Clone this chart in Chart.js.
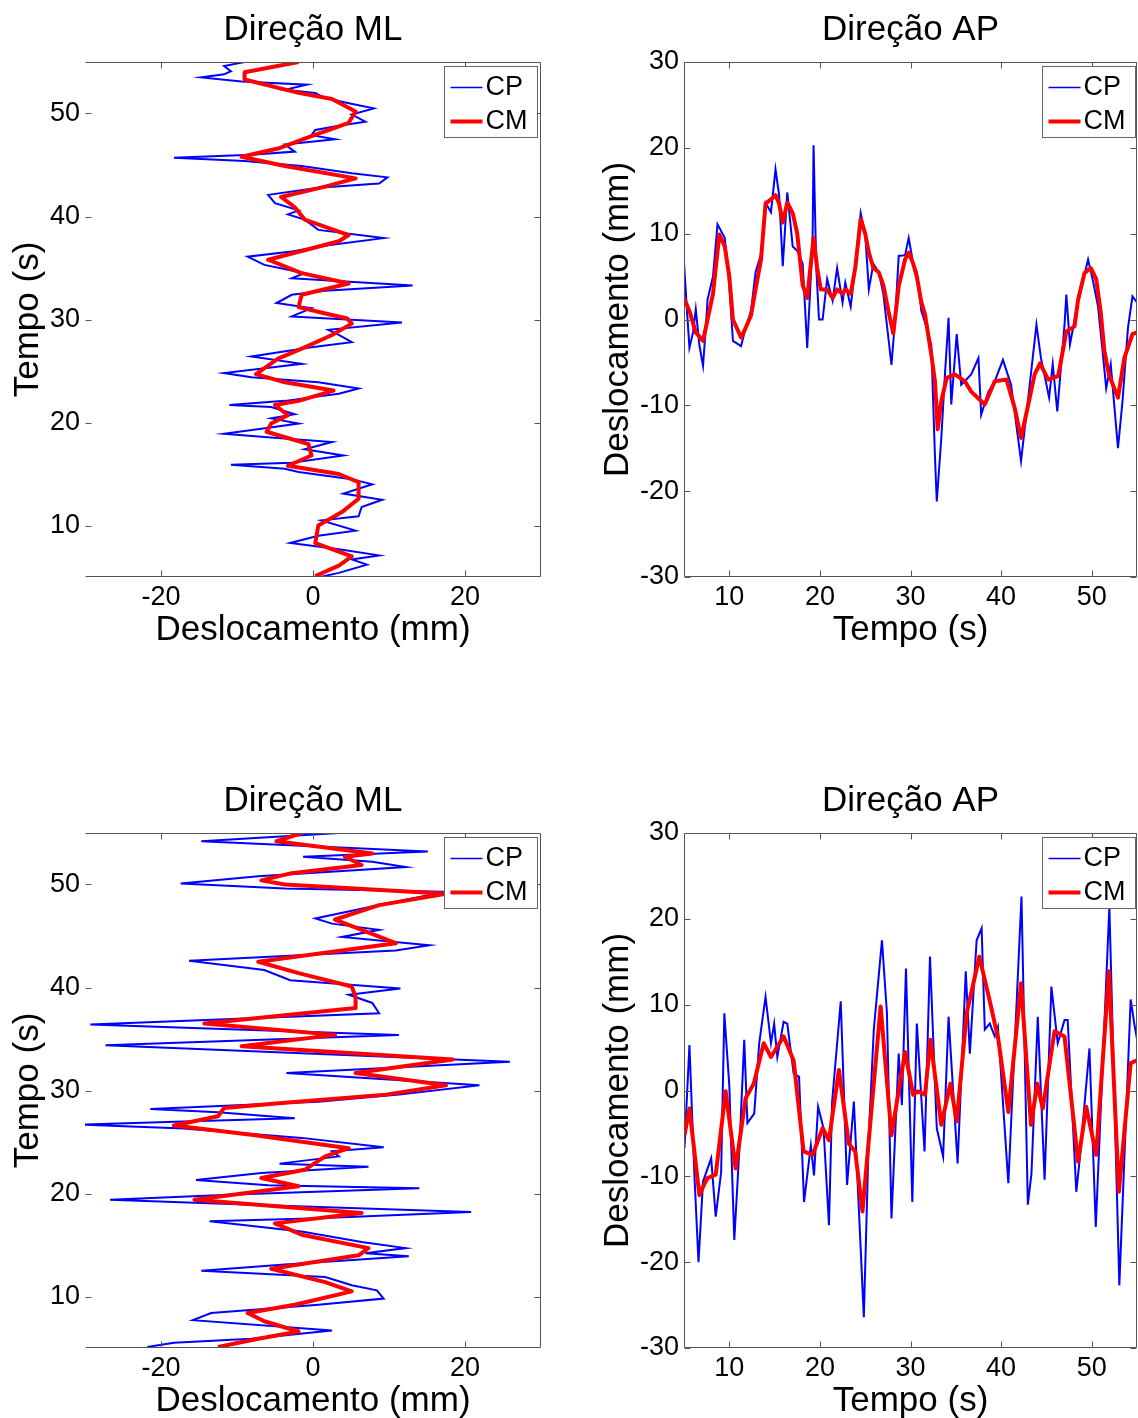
<!DOCTYPE html>
<html>
<head>
<meta charset="utf-8">
<title>Direção ML / AP</title>
<script src="https://cdn.jsdelivr.net/npm/chart.js@4.4.1/dist/chart.umd.min.js"></script>
<style>
  html, body { margin: 0; padding: 0; background: #fff; }
  body { position: relative; width: 1138px; height: 1418px; overflow: hidden; }
  canvas { position: absolute; }
</style>
</head>
<body>
<canvas id="mlTop" width="569" height="660" style="left:0;top:0"></canvas>
<canvas id="apTop" width="548" height="660" style="left:590px;top:0"></canvas>
<canvas id="mlBottom" width="569" height="660" style="left:0;top:771px"></canvas>
<canvas id="apBottom" width="548" height="660" style="left:590px;top:771px"></canvas>
<script>
// tick labels
const timeTicks = [10, 20, 30, 40, 50]
const mlTicks = [-20, 0, 20]
const apTicks = [-30, -20, -10, 0, 10, 20, 30]

// --- top row, ML (time in s, displacement in mm)
const ml1CpT = [4.9, 5.4, 6.2, 6.7, 7.1, 7.7, 8.3, 9.0, 9.5, 10.5,
  10.9, 11.8, 12.5, 13.1, 14.0, 14.5, 15.2, 15.5, 15.9, 16.1,
  16.8, 17.4, 18.1, 18.6, 18.9, 19.4, 19.9, 20.4, 20.8, 21.5,
  21.7, 22.1, 22.8, 23.3, 23.9, 24.4, 24.8, 25.2, 25.7, 26.4,
  27.3, 27.8, 28.5, 29.0, 29.7, 30.3, 31.1, 31.6, 32.4, 32.8,
  33.3, 34.0, 34.5, 35.3, 36.1, 36.6, 37.2, 37.9, 38.7, 39.7,
  40.2, 40.6, 41.3, 42.1, 42.8, 43.2, 43.8, 44.2, 44.9, 45.4,
  45.7, 46.0, 46.3, 47.0, 47.5, 47.9, 48.4, 48.8, 49.2, 49.9,
  50.5, 51.0, 51.5, 52.0, 52.3, 52.8, 53.1, 53.5, 53.8, 54.1,
  54.6, 55.0]
const ml1Cp = [0.3, 3.4, 7.1, 5.1, 8.7, 3.4, -3.0, 0.7, 5.6, 1.1,
  6.0, 6.4, 9.1, 4.0, 7.8, 5.1, -1.9, -3.7, -10.8, -2.8,
  4.0, -1.1, 2.5, -6.4, -11.7, -6.8, -1.9, -5.5, -2.4, -5.5,
  -11.0, -3.7, 3.4, 6.0, 0.7, -8.1, -11.7, -7.2, -1.5, -8.1,
  -0.2, 5.1, 3.4, 2.0, 11.7, -2.8, -0.2, -4.8, -2.8, 1.6,
  13.1, -2.8, -1.1, -6.4, -8.6, -2.8, 2.0, 9.3, 0.7, -1.1,
  -3.3, -1.9, -5.0, -5.9, 0.7, 8.7, 9.8, 5.1, -1.5, -9.0,
  -18.3, -8.1, -2.4, -3.7, 2.9, -0.2, 0.3, 3.4, 6.9, 5.1,
  8.0, 4.7, 1.6, 0.3, -3.7, -0.8, -9.4, -14.7, -11.7, -10.8,
  -11.7, -9.0]
const ml1CmT = [5.1, 6.1, 7.0, 8.3, 10.0, 11.3, 12.6, 14.2, 15.0, 15.8,
  16.8, 17.9, 19.1, 19.9, 20.7, 21.7, 22.1, 23.1, 23.9, 24.7,
  26.2, 27.3, 28.5, 29.6, 30.1, 30.6, 31.2, 32.4, 33.5, 34.5,
  35.8, 37.6, 38.2, 39.7, 40.9, 41.9, 42.9, 43.7, 44.9, 45.8,
  46.6, 47.8, 49.1, 50.2, 51.4, 52.0, 53.3, 54.0, 55.0]
const ml1Cm = [0.3, 3.4, 5.1, 0.3, 0.7, 3.8, 6.0, 6.0, 3.4, -3.3,
  -0.2, -0.6, -6.1, -5.5, -3.3, -5.0, -1.9, 2.7, -3.7, -7.5,
  -4.6, -1.1, 2.5, 5.1, 4.5, 1.5, -1.9, -1.5, 4.7, -1.5,
  -5.9, 3.4, 4.7, -1.1, -2.4, -4.2, 1.6, 5.6, -3.7, -9.4,
  -4.6, -0.2, 4.7, 5.6, 2.5, -1.9, -9.0, -9.0, -1.9]

// --- top row, AP
const ap1CpT = [5.0, 5.3, 5.6, 6.0, 6.3, 6.7, 7.1, 7.4, 7.6, 8.2,
  8.7, 9.0, 9.5, 10.0, 10.4, 11.3, 11.8, 12.4, 12.9, 13.5,
  14.0, 14.6, 15.1, 15.5, 15.9, 16.4, 17.0, 17.5, 18.1, 18.6,
  19.0, 19.2, 19.3, 19.6, 19.9, 20.3, 20.8, 21.4, 21.9, 22.5,
  22.8, 23.4, 23.9, 24.5, 25.0, 25.4, 25.9, 26.5, 27.0, 27.9,
  28.3, 28.7, 29.4, 29.8, 30.3, 30.7, 31.2, 31.8, 32.3, 32.7,
  32.9, 33.4, 33.8, 34.2, 34.5, 35.1, 35.6, 36.7, 37.5, 37.8,
  38.6, 39.3, 40.2, 41.1, 42.2, 43.0, 43.9, 44.4, 45.3, 45.7,
  46.2, 47.0, 47.2, 47.6, 48.4, 49.6, 50.1, 50.7, 51.2, 51.6,
  52.1, 52.9, 53.4, 54.0, 54.5, 55.0]
const ap1Cp = [6.6, 1.5, -3.3, -1.5, 1.2, -3.0, -5.4, -1.0, 2.3, 5.0,
  11.1, 10.5, 9.5, 4.0, -2.5, -3.1, -1.0, 1.0, 5.5, 7.6,
  13.6, 12.5, 17.5, 14.5, 6.2, 14.8, 8.5, 8.0, 6.5, -3.3,
  5.0, 10.0, 20.3, 6.0, 0.0, 0.0, 4.7, 2.2, 6.0, 2.0,
  4.3, 1.5, 6.0, 12.4, 10.0, 3.5, 6.5, 5.5, 3.0, -5.3,
  0.0, 7.4, 7.5, 9.5, 6.5, 5.5, 1.0, -1.0, -3.0, -16.0,
  -21.2, -13.8, -6.4, 0.2, -9.9, -1.7, -7.6, -6.4, -4.5, -11.1,
  -8.4, -7.2, -4.7, -7.6, -16.5, -9.1, -0.6, -4.5, -9.1, -5.2,
  -10.7, -0.6, 2.9, -2.9, 1.6, 7.0, 4.7, 1.5, -3.7, -8.0,
  -5.2, -15.0, -9.5, -1.0, 2.7, 2.0]
const ap1CmT = [5.0, 5.6, 6.3, 7.1, 7.6, 8.2, 8.9, 9.5, 10.0, 10.4,
  11.3, 11.8, 12.4, 12.9, 13.5, 14.0, 14.6, 15.1, 15.5, 15.9,
  16.4, 17.0, 17.5, 18.1, 18.6, 19.3, 19.7, 20.1, 20.8, 21.4,
  21.9, 22.5, 22.8, 23.4, 23.9, 24.5, 25.0, 25.4, 25.9, 26.5,
  27.0, 27.6, 28.1, 28.7, 29.4, 29.8, 30.3, 30.7, 31.2, 31.6,
  32.3, 32.7, 33.0, 33.4, 34.0, 34.9, 36.0, 36.7, 38.2, 39.3,
  40.6, 41.5, 42.2, 43.0, 43.7, 44.3, 45.2, 46.3, 47.2, 48.1,
  48.5, 49.2, 49.9, 50.5, 51.0, 51.4, 51.9, 52.9, 53.6, 54.5,
  55.0]
const ap1Cm = [2.5, 1.0, -1.5, -2.5, 0.0, 3.0, 9.9, 8.5, 5.0, 0.0,
  -2.1, -1.0, 0.5, 3.5, 7.0, 13.5, 14.0, 14.5, 13.5, 11.3,
  13.6, 12.4, 10.0, 4.0, 2.5, 9.5, 6.0, 3.5, 3.5, 2.5,
  3.5, 3.0, 3.5, 3.0, 6.0, 11.7, 10.0, 7.8, 6.0, 5.5,
  4.0, 0.8, -1.6, 3.9, 7.0, 7.8, 6.5, 5.0, 2.0, 0.6,
  -4.1, -7.2, -12.8, -9.5, -6.8, -6.4, -7.2, -8.4, -9.9, -7.2,
  -7.0, -10.3, -13.8, -9.9, -6.4, -5.1, -7.0, -6.6, -1.4, -0.8,
  2.3, 5.4, 6.0, 4.7, 0.8, -3.7, -6.4, -9.1, -4.5, -1.7,
  -1.5]

// --- bottom row, ML
const ml2CpT = [5.1, 5.5, 5.9, 6.7, 7.7, 8.4, 9.2, 9.8, 10.6, 11.1,
  11.9, 12.5, 13.1, 13.9, 14.2, 14.7, 15.3, 16.3, 17.3, 17.6,
  18.2, 18.9, 19.4, 19.9, 20.5, 20.8, 21.3, 22.0, 22.6, 22.9,
  23.6, 24.1, 24.5, 25.4, 26.3, 26.7, 27.0, 27.3, 27.9, 28.2,
  28.9, 29.6, 30.5, 31.7, 32.8, 34.4, 35.4, 36.4, 37.5, 38.5,
  39.3, 39.9, 40.7, 41.7, 42.6, 43.6, 44.1, 44.9, 45.6, 46.2,
  46.7, 48.0, 49.3, 49.6, 50.1, 50.8, 51.7, 52.2, 52.7, 53.2,
  53.7, 54.2, 55.0]
const ml2Cp = [-21.8, -18.3, -8.1, 2.5, -15.8, -13.4, 0.7, 9.3, 8.4, 5.1,
  1.6, -14.7, -3.7, 12.6, 6.9, 12.2, 6.4, -1.5, -13.6, 0.7,
  20.8, -8.1, -26.7, -10.3, 14.0, -5.9, -15.4, -6.8, 7.3, -4.4,
  3.4, 2.5, 9.3, -1.5, -17.0, -30.5, -17.0, -2.4, -12.5, -21.4,
  0.7, 11.3, 21.9, -3.5, 25.9, -27.3, 11.3, -29.3, 8.7, 7.8,
  4.7, 11.5, -3.0, -6.4, -16.3, 10.9, 15.3, 3.8, 8.7, 2.5,
  0.3, 8.7, 17.5, -3.7, -17.4, -7.2, 12.2, 7.8, -1.3, 15.1,
  0.7, -14.7, 3.4]
const ml2CmT = [5.1, 5.9, 6.6, 7.6, 8.4, 9.2, 10.5, 11.4, 12.7, 14.0,
  14.7, 16.0, 17.1, 18.1, 19.4, 20.7, 21.5, 22.3, 23.6, 24.4,
  25.7, 26.6, 27.5, 28.3, 28.8, 29.6, 30.5, 31.7, 33.0, 34.3,
  35.4, 36.5, 38.0, 39.1, 40.1, 41.4, 42.5, 44.3, 45.6, 46.6,
  48.0, 49.1, 50.0, 50.4, 51.1, 51.9, 52.7, 53.0, 54.2, 55.0]
const ml2Cm = [-12.5, -7.2, -1.9, -6.4, -8.6, -2.4, 5.1, 1.6, -5.5, 6.0,
  7.3, -1.5, -5.0, 6.4, -15.6, -1.9, -6.8, -1.1, 1.6, 4.7,
  -8.1, -18.3, -12.5, -11.7, -3.7, 9.6, 17.5, 5.6, 18.4, -9.4,
  2.9, -14.3, 5.6, 5.6, 5.1, -1.9, -7.2, 10.9, 6.4, 2.9,
  8.7, 17.5, -3.7, -6.8, -2.8, 6.4, 4.2, 7.8, -4.8, -1.5]

// --- bottom row, AP
const ap2CpT = [5.05, 5.6, 6.15, 6.6, 7.1, 8.0, 8.5, 9.1, 9.45, 10.0,
  10.55, 11.1, 11.65, 12.0, 12.75, 13.3, 14.0, 14.6, 14.95, 15.3,
  16.0, 16.4, 17.1, 17.7, 18.25, 19.0, 19.35, 19.8, 20.4, 21.0,
  21.35, 22.3, 23.0, 23.75, 24.85, 25.4, 25.95, 26.85, 27.4, 27.9,
  28.7, 29.05, 29.5, 30.2, 30.7, 31.55, 32.15, 32.9, 33.6, 34.2,
  35.2, 36.1, 36.55, 37.3, 37.85, 38.2, 38.75, 39.3, 39.65, 40.8,
  42.25, 42.95, 43.35, 44.05, 44.8, 45.55, 46.25, 47.0, 47.35, 48.3,
  48.65, 49.75, 50.45, 51.95, 53.05, 54.3, 54.7, 55.0]
const ap2Cp = [-6.7, 5.3, -9.9, -20.0, -10.6, -7.9, -14.7, -9.5, 9.0, 0.6,
  -17.4, -7.1, 5.9, -3.8, -2.7, 5.5, 10.9, 5.5, 7.8, 3.9,
  8.0, 7.8, 2.0, 1.6, -13.0, -6.4, -9.9, -1.9, -4.4, -15.7,
  -1.3, 10.4, -11.0, -1.3, -26.4, -5.2, 7.1, 17.5, 9.0, -14.9,
  4.3, -1.7, 14.2, -13.0, 7.8, -7.1, 15.6, -4.4, -7.7, 8.6,
  -8.5, 13.9, 4.3, 17.5, 18.9, 7.1, 7.8, 6.3, 7.4, -10.8,
  22.6, -13.3, -9.7, 8.6, -10.4, 12.1, 5.5, 8.2, 8.2, -11.8,
  -8.3, 4.9, -15.9, 21.4, -22.7, 10.6, 7.8, 6.0]
const ap2CmT = [5.05, 5.6, 6.7, 7.2, 7.6, 8.5, 9.6, 10.7, 11.8, 12.7,
  13.8, 14.6, 16.0, 17.1, 18.2, 19.2, 20.3, 21.0, 22.1, 23.2,
  23.9, 24.7, 26.7, 27.9, 29.4, 30.3, 30.8, 31.6, 32.2, 33.4,
  34.4, 35.1, 36.2, 37.6, 38.8, 39.7, 40.8, 42.2, 43.3, 44.0,
  44.6, 45.9, 47.0, 48.5, 49.4, 50.5, 51.9, 53.0, 54.3, 55.0]
const ap2Cm = [-5.2, -2.1, -12.2, -11.0, -10.2, -9.8, -0.1, -9.1, -0.9, 0.8,
  5.5, 3.9, 6.3, 3.5, -7.1, -7.5, -4.4, -5.8, 2.4, -6.2,
  -7.1, -14.1, 9.8, -5.2, 4.5, -0.5, -0.1, -0.5, 5.9, -4.0,
  0.8, -3.6, 9.0, 15.6, 10.2, 5.9, -2.5, 12.5, -4.0, 0.8,
  -2.1, 6.9, 6.3, -8.3, -1.9, -7.5, 13.9, -11.8, 3.2, 3.5]

const FONT = '"Liberation Sans", Arial, sans-serif'
Chart.defaults.font.family = FONT
Chart.defaults.color = '#000'
Chart.defaults.animation = false

// box round the axes, inward ticks on every side, and the little legend
const framePlugin = {
  id: 'frame',
  afterDraw(chart, args, opts) {
    const { ctx, chartArea: a, scales } = chart
    const L = Math.round(a.left) + 0.5
    const R = Math.round(a.right) - 0.5
    const T = Math.round(a.top) + 0.5
    const B = Math.round(a.bottom) - 0.5
    ctx.save()
    ctx.strokeStyle = '#555'
    ctx.lineWidth = 1
    ctx.beginPath()
    ctx.moveTo(R, T); ctx.lineTo(R, B); ctx.lineTo(L, B)
    ctx.moveTo(L, T); ctx.lineTo(R, T)
    if (opts.leftEdge) { ctx.moveTo(L, T); ctx.lineTo(L, B) }
    scales.x.ticks.forEach((t) => {
      const px = Math.round(scales.x.getPixelForValue(t.value)) + 0.5
      ctx.moveTo(px, B); ctx.lineTo(px, B - 6)
      ctx.moveTo(px, T); ctx.lineTo(px, T + 6)
    })
    scales.y.ticks.forEach((t) => {
      const py = Math.round(scales.y.getPixelForValue(t.value)) + 0.5
      ctx.moveTo(L, py); ctx.lineTo(L + 6, py)
      ctx.moveTo(R, py); ctx.lineTo(R - 6, py)
    })
    ctx.stroke()

    // legend
    const bw = 93, bh = 71
    const bx = Math.round(a.right - opts.legendRight - bw) + 0.5
    const by = Math.round(a.top + 4) + 0.5
    ctx.fillStyle = '#fff'
    ctx.fillRect(bx, by, bw, bh)
    ctx.strokeStyle = '#666'
    ctx.strokeRect(bx, by, bw, bh)
    ctx.font = '27px ' + FONT
    ctx.textBaseline = 'middle'
    chart.data.datasets.forEach((ds, i) => {
      const cy = by + 21 + i * 34
      ctx.strokeStyle = ds.borderColor
      ctx.lineWidth = ds.legendWidth
      ctx.beginPath()
      ctx.moveTo(bx + 6, cy); ctx.lineTo(bx + 38, cy)
      ctx.stroke()
      ctx.fillStyle = '#000'
      ctx.fillText(ds.label, bx + 41, cy)
    })
    ctx.restore()
  }
}

function points(times, values, timeOnY) {
  return times.map((t, i) => (timeOnY ? { x: values[i], y: t } : { x: t, y: values[i] }))
}

function axis(min, max, tickValues, titleText, isY, yWidth, labelPad, titlePad) {
  return {
    type: 'linear',
    min: min,
    max: max,
    afterBuildTicks: (s) => { s.ticks = tickValues.map((v) => ({ value: v })) },
    afterFit: (s) => { if (isY) s.width = yWidth; else s.height = 83 },
    grid: { display: false, drawTicks: false },
    border: { display: false },
    ticks: { padding: labelPad, font: { size: 27 }, color: '#000', autoSkip: false, maxRotation: 0, callback: (v) => String(v) },
    title: {
      display: true, text: titleText, color: '#000',
      font: { size: 35, lineHeight: 1 },
      padding: isY ? { top: titlePad, bottom: 0 } : { top: 0, bottom: titlePad }
    }
  }
}

function makePanel(id, kind, cpT, cp, cmT, cm) {
  const ml = kind === 'ML'
  const xAxis = ml
    ? axis(-30, 30, mlTicks, 'Deslocamento (mm)', false, 0, 4, 12)
    : axis(5, 55, timeTicks, 'Tempo (s)', false, 0, 4, 12)
  const yAxis = ml
    ? axis(5, 55, timeTicks, 'Tempo (s)', true, 85, 5, 11)
    : axis(-30, 30, apTicks, 'Deslocamento (mm)', true, 94, 5, 11)

  new Chart(document.getElementById(id), {
    type: 'scatter',
    data: {
      datasets: [
        {
          label: 'CP',
          data: points(cpT, cp, ml),
          showLine: true,
          borderColor: '#0000ff',
          borderWidth: 2,
          legendWidth: 1.5,
          pointRadius: 0,
          tension: 0,
          order: 2
        },
        {
          label: 'CM',
          data: points(cmT, cm, ml),
          showLine: true,
          borderColor: '#ff0000',
          borderWidth: 4,
          legendWidth: 4,
          borderJoinStyle: 'round',
          pointRadius: 0,
          tension: 0,
          order: 1
        }
      ]
    },
    options: {
      responsive: false,
      layout: { padding: { left: 0, right: ml ? 28 : 1, top: 0, bottom: 0 } },
      plugins: {
        legend: { display: false },
        tooltip: { enabled: false },
        title: {
          display: true,
          text: 'Direção ' + kind,
          fullSize: false,
          color: '#000',
          font: { size: 35, lineHeight: 1, weight: 'normal' },
          padding: { top: 13, bottom: 14 }
        },
        frame: { leftEdge: !ml, legendRight: ml ? 4 : 2 }
      },
      scales: { x: xAxis, y: yAxis }
    },
    plugins: [framePlugin]
  })
}

makePanel('mlTop', 'ML', ml1CpT, ml1Cp, ml1CmT, ml1Cm)
makePanel('apTop', 'AP', ap1CpT, ap1Cp, ap1CmT, ap1Cm)
makePanel('mlBottom', 'ML', ml2CpT, ml2Cp, ml2CmT, ml2Cm)
makePanel('apBottom', 'AP', ap2CpT, ap2Cp, ap2CmT, ap2Cm)
</script>
</body>
</html>
